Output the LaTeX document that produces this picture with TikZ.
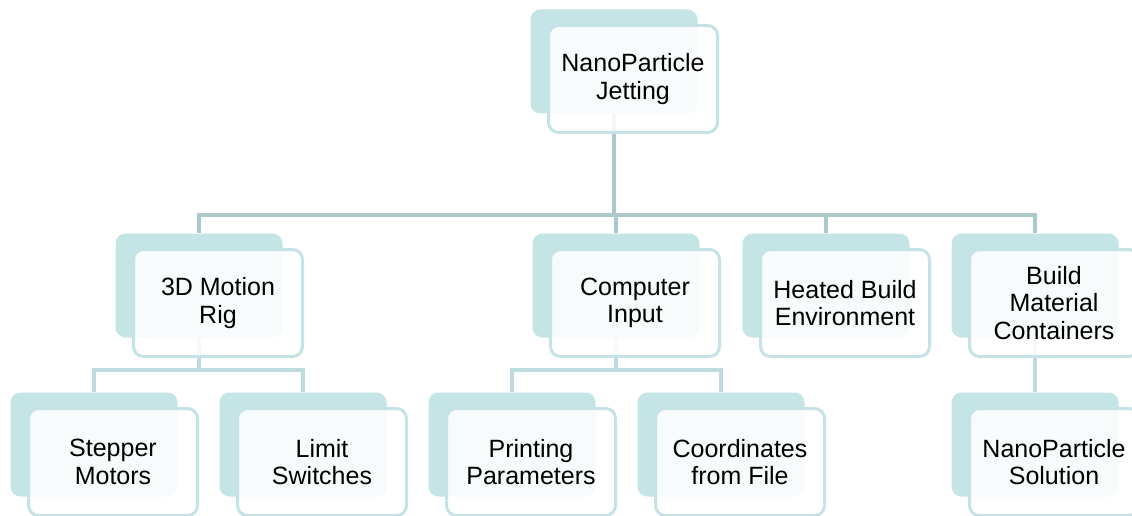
\documentclass[tikz,border=0pt]{standalone}
\usepackage{fontspec}
\setmainfont{Liberation Sans}
\usetikzlibrary{backgrounds}
\definecolor{backfill}{RGB}{197,228,230}
\definecolor{frontline}{RGB}{197,227,230}
\definecolor{linkA}{RGB}{172,201,205}
\definecolor{linkB}{RGB}{190,220,223}
\tikzset{
  backbox/.style={fill=backfill, rounded corners=10pt, minimum width=167pt,
    minimum height=104pt, inner sep=0pt},
  frontbox/.style={draw=frontline, line width=3pt, fill=white, fill opacity=0.88,
    text opacity=1, rounded corners=10pt, minimum width=169pt, minimum height=107pt,
    inner sep=0pt, align=center, font=\fontsize{25}{27.5}\selectfont},
  conn/.style={line width=4pt, draw=linkA},
  subconn/.style={line width=4pt, draw=linkB},
}
% a shaded card behind a framed card; #1 name, #2/#3 centre of the framed card
\newcommand\cardpair[4]{%
  \node[backbox] (#1-b) at (#2-19,#3-17.5) {};
  \node[frontbox] (#1) at (#2,#3) {#4};
}
\begin{document}
\begin{tikzpicture}[x=1pt,y=-1pt]
  \useasboundingbox (0,0) rectangle (1132,516);

  \cardpair{top}{633}{79}{NanoParticle\\Jetting}
  \cardpair{motion}{218}{303}{3D Motion\\Rig}
  \cardpair{comp}{635}{303}{Computer\\Input}
  \cardpair{heat}{845}{303}{Heated Build\\Environment}
  \cardpair{build}{1054}{303}{Build\\Material\\Containers}
  \cardpair{step}{113}{462}{Stepper\\Motors}
  \cardpair{limit}{322}{462}{Limit\\Switches}
  \cardpair{print}{531}{462}{Printing\\Parameters}
  \cardpair{coord}{740}{462}{Coordinates\\from File}
  \cardpair{sol}{1054}{462}{NanoParticle\\Solution}

  \coordinate (bus1) at (0,215);
  \coordinate (bus2) at (0,370);

  \begin{pgfonlayer}{background}
    \foreach \c in {motion,comp,heat,build}
      \draw[conn] (top-b.south) -- (top-b.south |- bus1) -| (\c-b.north);
    \foreach \c in {step,limit}
      \draw[subconn] (motion-b.south) -- (motion-b.south |- bus2) -| (\c-b.north);
    \foreach \c in {print,coord}
      \draw[subconn] (comp-b.south) -- (comp-b.south |- bus2) -| (\c-b.north);
    \draw[subconn] (build-b.south) -- (sol-b.north);
  \end{pgfonlayer}
\end{tikzpicture}
\end{document}
